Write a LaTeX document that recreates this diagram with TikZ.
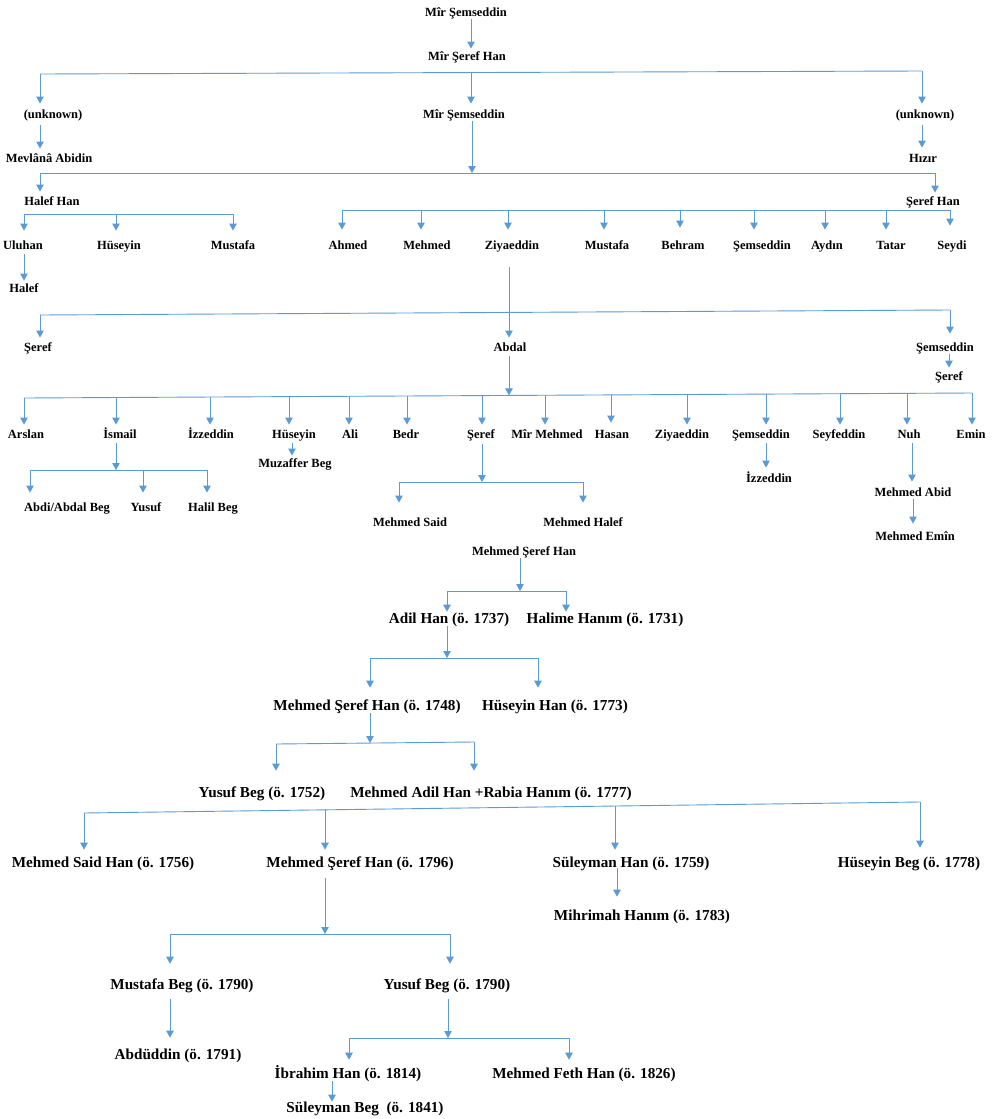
\documentclass[tikz,border=0pt]{standalone}
\usepackage{fontspec}
\setmainfont{Liberation Serif}
\usetikzlibrary{arrows.meta}
\definecolor{lb}{HTML}{5B9BD5}
\tikzset{
  nm/.style={font=\bfseries\fontsize{12.5}{14}\selectfont, text height=8.5pt, text depth=0pt, inner xsep=0pt, inner ysep=3pt, anchor=center},
  nl/.style={nm, font=\bfseries\fontsize{15.2}{17}\selectfont, text height=10.3pt},
  ln/.style={draw=lb, line width=0.9pt},
  arr/.style={ln, -{Triangle[width=7.5pt,length=7pt]}},
}
\begin{document}
\begin{tikzpicture}[x=1pt,y=-1pt]
\fill[white] (0,0) rectangle (991,1119);
\useasboundingbox (0,0) rectangle (991,1119);

% ---------------- upper nodes ----------------
\node[nm] (n1) at (466,12) {Mîr Şemseddin};
\node[nm] (n2) at (467,56) {Mîr Şeref Han};
\node[nm] (unkL) at (53,114) {(unknown)};
\node[nm] (ms) at (464,114) {Mîr Şemseddin};
\node[nm] (unkR) at (925,114) {(unknown)};
\node[nm] (mev) at (49,158) {Mevlânâ Abidin};
\node[nm] (hizir) at (923,158) {Hızır};
\node[nm] (halefhan) at (52,201) {Halef Han};
\node[nm] (serefhan) at (933,201) {Şeref Han};
\node[nm] (uluhan) at (23,245) {Uluhan};
\node[nm] (husL) at (119,245) {Hüseyin};
\node[nm] (musL) at (233,245) {Mustafa};
\node[nm] (halef) at (24,288) {Halef};
\node[nm] (ahmed) at (348,245) {Ahmed};
\node[nm] (mehmed) at (427,245) {Mehmed};
\node[nm] (ziya) at (512,245) {Ziyaeddin};
\node[nm] (musR) at (607,245) {Mustafa};
\node[nm] (behram) at (683,245) {Behram};
\node[nm] (sems) at (762,245) {Şemseddin};
\node[nm] (aydin) at (827,245) {Aydın};
\node[nm] (tatar) at (891,245) {Tatar};
\node[nm] (seydi) at (952,245) {Seydi};
\node[nm] (serefA) at (38,347) {Şeref};
\node[nm] (abdal) at (510,347) {Abdal};
\node[nm] (semsB) at (945,347) {Şemseddin};
\node[nm] (serefB) at (949,376) {Şeref};
\node[nm] (arslan) at (26,434) {Arslan};
\node[nm] (ismail) at (120,434) {İsmail};
\node[nm] (izz) at (211,434) {İzzeddin};
\node[nm] (husB) at (294,434) {Hüseyin};
\node[nm] (ali) at (350,434) {Ali};
\node[nm] (bedr) at (406,434) {Bedr};
\node[nm] (serefC) at (481,434) {Şeref};
\node[nm] (mirmeh) at (547,434) {Mîr Mehmed};
\node[nm] (hasan) at (612,434) {Hasan};
\node[nm] (ziyaB) at (682,434) {Ziyaeddin};
\node[nm] (semsC) at (761,434) {Şemseddin};
\node[nm] (seyf) at (839,434) {Seyfeddin};
\node[nm] (nuh) at (909,434) {Nuh};
\node[nm] (emin) at (971,434) {Emin};
\node[nm] (muzaffer) at (295,463) {Muzaffer Beg};
\node[nm] (abdi) at (67,507) {Abdi/Abdal Beg};
\node[nm] (yusufA) at (146,507) {Yusuf};
\node[nm] (halil) at (213,507) {Halil Beg};
\node[nm] (izzB) at (769,478) {İzzeddin};
\node[nm] (mabid) at (913,492) {Mehmed Abid};
\node[nm] (msaid) at (410,522) {Mehmed Said};
\node[nm] (mhalef) at (583,522) {Mehmed Halef};
\node[nm] (memin) at (915,536) {Mehmed Emîn};

% ---------------- lower nodes ----------------
\node[nm] (msh0) at (524,551) {Mehmed Şeref Han};
\node[nl] (adil) at (449,618) {Adil Han (ö. 1737)};
\node[nl] (halime) at (605,618) {Halime Hanım (ö. 1731)};
\node[nl] (msh1) at (367,705) {Mehmed Şeref Han (ö. 1748)};
\node[nl] (husHan) at (555,705) {Hüseyin Han (ö. 1773)};
\node[nl] (yusufBeg) at (262,792) {Yusuf Beg (ö. 1752)};
\node[nl] (madil) at (491,792) {Mehmed Adil Han +Rabia Hanım (ö. 1777)};
\node[nl] (msaidHan) at (103,862) {Mehmed Said Han (ö. 1756)};
\node[nl] (msh2) at (360,862) {Mehmed Şeref Han (ö. 1796)};
\node[nl] (sulHan) at (631,862) {Süleyman Han (ö. 1759)};
\node[nl] (husBeg) at (909,862) {Hüseyin Beg (ö. 1778)};
\node[nl] (mihri) at (642,915) {Mihrimah Hanım (ö. 1783)};
\node[nl] (mustBeg) at (182,984) {Mustafa Beg (ö. 1790)};
\node[nl] (yusBeg2) at (447,984) {Yusuf Beg (ö. 1790)};
\node[nl] (abdud) at (178,1054) {Abdüddin (ö. 1791)};
\node[nl] (ibr) at (348,1073) {İbrahim Han (ö. 1814)};
\node[nl] (feth) at (584,1073) {Mehmed Feth Han (ö. 1826)};
\node[nl] (sulBeg) at (365,1107) {Süleyman Beg~~(ö. 1841)};

% ---------------- bar coordinates ----------------
\coordinate (b1a) at (40,74);   \coordinate (b1b) at (471,72.5); \coordinate (b1c) at (922,71);
\coordinate (b2a) at (40,173);  \coordinate (b2s) at (472,173);  \coordinate (b2b) at (935,173);
\coordinate (b3a) at (24,214);  \coordinate (b3b) at (116,214);  \coordinate (b3c) at (233,214);
\coordinate (b4a) at (342,210); \coordinate (b4b) at (421,210);  \coordinate (b4c) at (508,210);
\coordinate (b4d) at (604,210); \coordinate (b4e) at (680,210);  \coordinate (b4f) at (754,210);
\coordinate (b4g) at (825,210); \coordinate (b4h) at (886,210);  \coordinate (b4i) at (950,210);
\coordinate (b5a) at (40,315);  \coordinate (b5b) at (950,310);
\coordinate (b6a) at (24,398);  \coordinate (b6b) at (116,397.5); \coordinate (b6c) at (210,397);
\coordinate (b6d) at (289,396.6); \coordinate (b6e) at (349,396.3); \coordinate (b6f) at (407,396);
\coordinate (b6g) at (482,395.6); \coordinate (b6s) at (509,395.4); \coordinate (b6h) at (545,395.3);
\coordinate (b6i) at (611,394.9); \coordinate (b6j) at (687,394.5); \coordinate (b6k) at (766,394.1);
\coordinate (b6l) at (840,393.7); \coordinate (b6m) at (907,393.3); \coordinate (b6n) at (972,393);
\coordinate (b7a) at (30,470);  \coordinate (b7s) at (116,470);  \coordinate (b7b) at (143,470); \coordinate (b7c) at (207,470);
\coordinate (b8a) at (399,482); \coordinate (b8s) at (482,482);  \coordinate (b8b) at (583,482);
\coordinate (b9a) at (447,591); \coordinate (b9s) at (520,591);  \coordinate (b9b) at (566,591);
\coordinate (b10a) at (370,658); \coordinate (b10s) at (447,658); \coordinate (b10b) at (538,658);
\coordinate (b11a) at (276,744); \coordinate (b11s) at (370,743); \coordinate (b11b) at (474,742);
\coordinate (b12a) at (84,813); \coordinate (b12b) at (325,809.8); \coordinate (b12c) at (615,806); \coordinate (b12d) at (920,802);
\coordinate (b13a) at (170,934); \coordinate (b13s) at (325,934); \coordinate (b13b) at (450,934);
\coordinate (b14a) at (349,1038); \coordinate (b14s) at (448,1038); \coordinate (b14b) at (569,1038);

% ---------------- bars ----------------
\draw[ln] (b1a) -- (b1c);
\draw[ln] (b2a) -- (b2b);
\draw[ln] (b3a) -- (b3c);
\draw[ln] (b4a) -- (b4i);
\draw[ln] (b5a) -- (b5b);
\draw[ln] (b6a) -- (b6n);
\draw[ln] (b7a) -- (b7c);
\draw[ln] (b8a) -- (b8b);
\draw[ln] (b9a) -- (b9b);
\draw[ln] (b10a) -- (b10b);
\draw[ln] (b11a) -- (b11b);
\draw[ln] (b12a) -- (b12d);
\draw[ln] (b13a) -- (b13b);
\draw[ln] (b14a) -- (b14b);

% ---------------- direct arrows ----------------
\draw[arr] (n1.south -| 471,0) -- (n2.north -| 471,0);
\draw[arr,shorten <=4pt,shorten >=2pt] (unkL.south -| 40,0) -- (mev.north -| 40,0);
\draw[arr,shorten <=4pt,shorten >=3pt] (unkR.south -| 922,0) -- (hizir.north -| 922,0);
\draw[arr,shorten <=2pt] (uluhan.south -| 24,0) -- (halef.north -| 24,0);
\draw[arr,shorten <=15pt,shorten >=2pt] (ziya.south -| 509,0) -- (abdal.north -| 509,0);
\draw[arr,shorten >=1pt] (semsB.south -| 949,0) -- (serefB.north -| 949,0);
\draw[arr,shorten <=2pt] (husB.south -| 292,0) -- (muzaffer.north -| 292,0);
\draw[arr,shorten <=2pt,shorten >=3pt] (semsC.south -| 766,0) -- (izzB.north -| 766,0);
\draw[arr,shorten <=2pt,shorten >=3pt] (nuh.south -| 912,0) -- (mabid.north -| 912,0);
\draw[arr,shorten >=5pt] (mabid.south -| 913,0) -- (memin.north -| 913,0);
\draw[arr,shorten <=-2pt,shorten >=10pt] (sulHan.south -| 617,0) -- (mihri.north -| 617,0);
\draw[arr,shorten <=7pt,shorten >=8pt] (mustBeg.south -| 170,0) -- (abdud.north -| 170,0);
\draw[arr,shorten >=-3pt] (ibr.south -| 332,0) -- (sulBeg.north -| 332,0);

% ---------------- stems to bars ----------------
\draw[arr] (ms.south -| b2s) -- (b2s);
\draw[arr,shorten <=2pt] (abdal.south -| b6s) -- (b6s);
\draw[arr,shorten <=2pt] (ismail.south -| b7s) -- (b7s);
\draw[arr,shorten <=3pt] (serefC.south -| b8s) -- (b8s);
\draw[arr] (msh0.south -| b9s) -- (b9s);
\draw[arr] (adil.south -| b10s) -- (b10s);
\draw[arr] (msh1.south -| b11s) -- (b11s);
\draw[arr,shorten <=8pt] (msh2.south -| b13s) -- (b13s);
\draw[arr,shorten <=7pt] (yusBeg2.south -| b14s) -- (b14s);

% ---------------- drops ----------------
\draw[arr,shorten >=3pt] (b1a) -- (unkL.north -| b1a);
\draw[arr,shorten >=3pt] (b1b) -- (ms.north -| b1b);
\draw[arr,shorten >=3pt] (b1c) -- (unkR.north -| b1c);
\draw[arr,shorten >=2pt] (b2a) -- (halefhan.north -| b2a);
\draw[arr,shorten >=1pt] (b2b) -- (serefhan.north -| b2b);
\draw[arr,shorten >=7pt] (b3a) -- (uluhan.north -| b3a);
\draw[arr,shorten >=7pt] (b3b) -- (husL.north -| b3b);
\draw[arr,shorten >=7pt] (b3c) -- (musL.north -| b3c);
\draw[arr,shorten >=8pt] (b4a) -- (ahmed.north -| b4a);
\draw[arr,shorten >=8pt] (b4b) -- (mehmed.north -| b4b);
\draw[arr,shorten >=8pt] (b4c) -- (ziya.north -| b4c);
\draw[arr,shorten >=8pt] (b4d) -- (musR.north -| b4d);
\draw[arr,shorten >=10pt] (b4e) -- (behram.north -| b4e);
\draw[arr,shorten >=8pt] (b4f) -- (sems.north -| b4f);
\draw[arr,shorten >=8pt] (b4g) -- (aydin.north -| b4g);
\draw[arr,shorten >=8pt] (b4h) -- (tatar.north -| b4h);
\draw[arr,shorten >=12pt] (b4i) -- (seydi.north -| b4i);
\draw[arr,shorten >=2pt] (b5a) -- (serefA.north -| b5a);
\draw[arr,shorten >=6pt] (b5b) -- (semsB.north -| b5b);
\draw[arr,shorten >=2pt] (b6a) -- (arslan.north -| b6a);
\draw[arr,shorten >=2pt] (b6b) -- (ismail.north -| b6b);
\draw[arr,shorten >=2pt] (b6c) -- (izz.north -| b6c);
\draw[arr,shorten >=2pt] (b6d) -- (husB.north -| b6d);
\draw[arr,shorten >=2pt] (b6e) -- (ali.north -| b6e);
\draw[arr,shorten >=2pt] (b6f) -- (bedr.north -| b6f);
\draw[arr,shorten >=2pt] (b6g) -- (serefC.north -| b6g);
\draw[arr,shorten >=2pt] (b6h) -- (mirmeh.north -| b6h);
\draw[arr,shorten >=4pt] (b6i) -- (hasan.north -| b6i);
\draw[arr,shorten >=2pt] (b6j) -- (ziyaB.north -| b6j);
\draw[arr,shorten >=2pt] (b6k) -- (semsC.north -| b6k);
\draw[arr,shorten >=2pt] (b6l) -- (seyf.north -| b6l);
\draw[arr,shorten >=2pt] (b6m) -- (nuh.north -| b6m);
\draw[arr,shorten >=2pt] (b6n) -- (emin.north -| b6n);
\draw[arr,shorten >=7pt] (b7a) -- (abdi.north -| b7a);
\draw[arr,shorten >=7pt] (b7b) -- (yusufA.north -| b7b);
\draw[arr,shorten >=7pt] (b7c) -- (halil.north -| b7c);
\draw[arr,shorten >=12pt] (b8a) -- (msaid.north -| b8a);
\draw[arr,shorten >=12pt] (b8b) -- (mhalef.north -| b8b);
\draw[arr,shorten >=-2pt] (b9a) -- (adil.north -| b9a);
\draw[arr,shorten >=-2pt] (b9b) -- (halime.north -| b9b);
\draw[arr,shorten >=9pt] (b10a) -- (msh1.north -| b10a);
\draw[arr,shorten >=9pt] (b10b) -- (husHan.north -| b10b);
\draw[arr,shorten >=13pt] (b11a) -- (yusufBeg.north -| b11a);
\draw[arr,shorten >=13pt] (b11b) -- (madil.north -| b11b);
\draw[arr,shorten >=4pt] (b12a) -- (msaidHan.north -| b12a);
\draw[arr,shorten >=4pt] (b12b) -- (msh2.north -| b12b);
\draw[arr,shorten >=4pt] (b12c) -- (sulHan.north -| b12c);
\draw[arr,shorten >=6pt] (b12d) -- (husBeg.north -| b12d);
\draw[arr,shorten >=12pt] (b13a) -- (mustBeg.north -| b13a);
\draw[arr,shorten >=12pt] (b13b) -- (yusBeg2.north -| b13b);
\draw[arr,shorten >=5pt] (b14a) -- (ibr.north -| b14a);
\draw[arr,shorten >=5pt] (b14b) -- (feth.north -| b14b);
\end{tikzpicture}
\end{document}
